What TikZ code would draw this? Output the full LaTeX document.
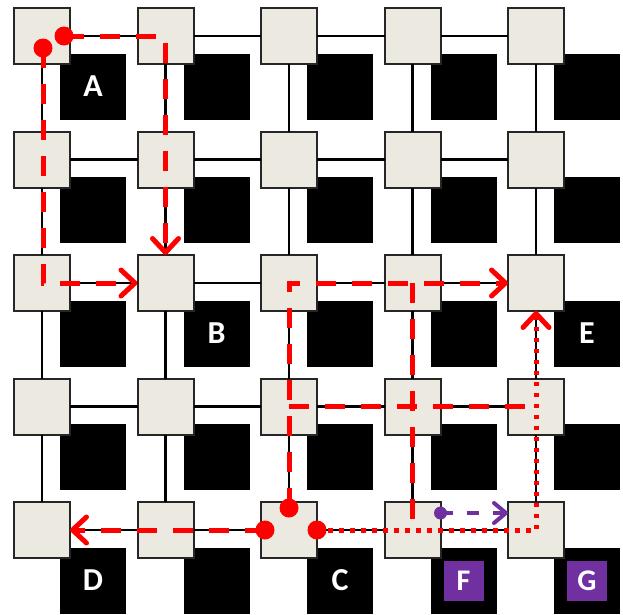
\documentclass[tikz,border=0pt]{standalone}
\usepackage{fontspec}
\setmainfont{Carlito}
\usetikzlibrary{arrows.meta,calc}
\definecolor{rbeige}{HTML}{ECEAE0}
\definecolor{pviolet}{HTML}{7030A0}
\begin{document}
\begin{tikzpicture}[x=1pt,y=-1pt,
  router/.style={draw=black!85,line width=2pt,fill=rbeige,minimum size=56pt,inner sep=0pt,outer sep=0pt},
  core/.style={fill=black,minimum size=66pt,inner sep=0pt},
  lbl/.style={text=white,inner sep=0pt,font=\bfseries\fontsize{32}{32}\selectfont},
  tag/.style={fill=pviolet,minimum size=40pt,inner sep=0pt,text=white,font=\bfseries\fontsize{30}{30}\selectfont},
  link/.style={line width=2.2pt,black},
  rdash/.style={red,line width=5pt,dash pattern=on 20pt off 16pt},
  rdots/.style={red,line width=5pt,dash pattern=on 4.5pt off 6.5pt},
  pdash/.style={pviolet,line width=4pt,dash pattern=on 12pt off 14pt},
  rtip/.style={-{Straight Barb[length=14pt,width=26pt,round]}},
  ptip/.style={-{Straight Barb[length=12pt,width=20pt,round]}}]
\useasboundingbox (0,0) rectangle (623,614);
% cores
\foreach \i in {0,...,4}{
  \foreach \j in {0,...,4}{
    \node[core] (c\i\j) at (93+123.5*\j, 86.5+123.5*\i) {};
  }
}
% routers
\foreach \i in {0,...,4}{
  \foreach \j in {0,...,4}{
    \node[router] (r\i\j) at (42+123.5*\j, 36+123.5*\i) {};
  }
}
% links
\foreach \i in {0,...,4}{
  \foreach \j/\k in {0/1,1/2,2/3,3/4}{
    \draw[link] (r\i\j) -- (r\i\k);
    \draw[link] (r\j\i) -- (r\k\i);
  }
}
% labels
\node[lbl] (la) at (c00) {A};
\node[lbl] (lb) at (c21) {B};
\node[lbl] (lc) at (c42) {C};
\node[lbl] (ld) at (c40) {D};
\node[lbl] (le) at (c24) {E};
\node[tag] (lf) at (c43) {F};
\node[tag] (lg) at (c44) {G};
% path endpoints
\coordinate (d1) at ($(r00)+(1,12)$);
\coordinate (d2) at ($(r00)+(22,0)$);
\coordinate (d3) at ($(r42)+(0,-22)$);
\coordinate (d4) at ($(r42)+(-24,0)$);
\coordinate (d5) at ($(r42)+(28,0)$);
\coordinate (e34) at ($(r34)+(-8,0)$);
\coordinate (e43) at ($(r43)+(0,-2)$);
\coordinate (p1) at ($(r43)+(28,-17)$);
\coordinate (p2) at ($(r44)+(-28,-17)$);
% red paths
\draw[rdash,rtip] (d1) |- (r21.west);
\draw[rdash,rtip] (d2) -| (r21.north);
\draw[rdash,rtip] (d3) |- (r24.west);
\draw[rdash] (r32.center) -- (e34);
\draw[rdash] (r23.center) -- (e43);
\draw[rdash,rtip] (d4) -- (r40.east);
\draw[rdots,rtip] (d5) -| (r24.south);
\draw[pdash,ptip] (p1) -- (p2);
% dots
\fill[red] (d1) circle (9.5pt);
\fill[red] (d2) circle (9.5pt);
\fill[red] (d3) circle (9.5pt);
\fill[red] (d4) circle (9.5pt);
\fill[red] (d5) circle (9.5pt);
\fill[pviolet] (p1) circle (6.5pt);
\end{tikzpicture}
\end{document}
